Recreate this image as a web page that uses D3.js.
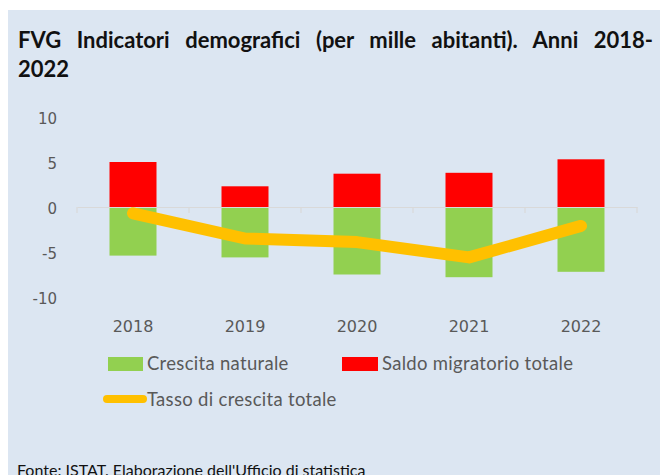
<!DOCTYPE html>
<html>
<head>
<meta charset="utf-8">
<script src="https://cdn.jsdelivr.net/npm/d3@7"></script>
<style>
  body { margin: 0; background: #fff; }
  svg { display: block; }
</style>
</head>
<body>
<div id="chart"></div>
<script>
const years = ["2018", "2019", "2020", "2021", "2022"];
const crescitaNaturale = [-5.4, -5.6, -7.5, -7.8, -7.2];
const saldoMigratorio = [5.0, 2.3, 3.7, 3.8, 5.3];
const tassoCrescita = [-0.7, -3.5, -3.9, -5.6, -2.1];
const yTicks = [10, 5, 0, -5, -10];

const width = 660, height = 475;
const svg = d3.select("#chart").append("svg")
  .attr("width", width)
  .attr("height", height);

// panel background
svg.append("rect")
  .attr("x", 8).attr("y", 10)
  .attr("width", width - 8).attr("height", height - 10)
  .attr("fill", "#dce6f2");

// title, stretched across the line like the original
const titleText = "FVG Indicatori demografici (per mille abitanti). Anni 2018-";
const title = svg.append("text")
  .attr("x", 18).attr("y", 48)
  .attr("font-family", "Lato, sans-serif")
  .attr("font-weight", "bold")
  .attr("font-size", 22)
  .attr("fill", "#111")
  .text(titleText);
const gaps = titleText.split(" ").length - 1;
const extra = (635 - title.node().getComputedTextLength()) / gaps;
title.attr("word-spacing", extra);

svg.append("text")
  .attr("x", 18).attr("y", 77)
  .attr("font-family", "Lato, sans-serif")
  .attr("font-weight", "bold")
  .attr("font-size", 22)
  .attr("fill", "#111")
  .text("2022");

const x = d3.scaleBand().domain(years).range([77, 637]);
const y = d3.scaleLinear().domain([-10, 10]).range([297, 117]);
const barW = 47;

// y axis labels
svg.append("g").selectAll("text")
  .data(yTicks)
  .join("text")
  .attr("x", 57)
  .attr("y", d => y(d) + 7)
  .attr("text-anchor", "end")
  .attr("font-family", "DejaVu Sans, sans-serif")
  .attr("font-size", 15)
  .attr("fill", "#595959")
  .text(d => d);

// bars
svg.append("g").selectAll("rect")
  .data(crescitaNaturale)
  .join("rect")
  .attr("x", (d, i) => x(years[i]) + x.bandwidth() / 2 - barW / 2)
  .attr("y", y(0))
  .attr("width", barW)
  .attr("height", d => y(d) - y(0))
  .attr("fill", "#92d050");

svg.append("g").selectAll("rect")
  .data(saldoMigratorio)
  .join("rect")
  .attr("x", (d, i) => x(years[i]) + x.bandwidth() / 2 - barW / 2)
  .attr("y", d => y(d))
  .attr("width", barW)
  .attr("height", d => y(0) - y(d))
  .attr("fill", "#ff0000");

// zero axis with category ticks
const axis = svg.append("g")
  .attr("transform", `translate(0,${y(0)})`)
  .call(d3.axisBottom(x).tickSize(0).tickFormat(""));
axis.select(".domain").attr("stroke", "#d9d9d9").attr("stroke-width", 1.2);
const boundaries = years.map(d => x(d)).concat([x.range()[1]]);
axis.selectAll(".bound")
  .data(boundaries)
  .join("line")
  .attr("x1", d => d).attr("x2", d => d)
  .attr("y1", 0).attr("y2", 6)
  .attr("stroke", "#d9d9d9")
  .attr("stroke-width", 1.2);

// line
const line = d3.line()
  .x((d, i) => x(years[i]) + x.bandwidth() / 2)
  .y(d => y(d));
svg.append("path")
  .datum(tassoCrescita)
  .attr("d", line)
  .attr("fill", "none")
  .attr("stroke", "#ffc000")
  .attr("stroke-width", 12)
  .attr("stroke-linecap", "round")
  .attr("stroke-linejoin", "round");

// year labels
svg.append("g").selectAll("text")
  .data(years)
  .join("text")
  .attr("x", d => x(d) + x.bandwidth() / 2)
  .attr("y", 332)
  .attr("text-anchor", "middle")
  .attr("font-family", "DejaVu Sans, sans-serif")
  .attr("font-size", 16)
  .attr("fill", "#595959")
  .text(d => d);

// legend
const legendFont = "Lato, sans-serif";
const lg = svg.append("g")
  .attr("font-family", legendFont)
  .attr("font-size", 18.5)
  .attr("letter-spacing", 0.3)
  .attr("fill", "#595959");
lg.append("rect").attr("x", 108).attr("y", 357).attr("width", 35).attr("height", 14).attr("fill", "#92d050");
lg.append("text").attr("x", 147).attr("y", 370).text("Crescita naturale");
lg.append("rect").attr("x", 342).attr("y", 357).attr("width", 36).attr("height", 14).attr("fill", "#ff0000");
lg.append("text").attr("x", 382).attr("y", 370).text("Saldo migratorio totale");
lg.append("line").attr("x1", 107).attr("x2", 143).attr("y1", 399).attr("y2", 399)
  .attr("stroke", "#ffc000").attr("stroke-width", 8).attr("stroke-linecap", "round");
lg.append("text").attr("x", 147).attr("y", 406).text("Tasso di crescita totale");

// source
svg.append("text")
  .attr("x", 17).attr("y", 476)
  .attr("font-family", legendFont)
  .attr("font-size", 16)
  .attr("fill", "#111")
  .text("Fonte: ISTAT. Elaborazione dell'Ufficio di statistica");
</script>
</body>
</html>
